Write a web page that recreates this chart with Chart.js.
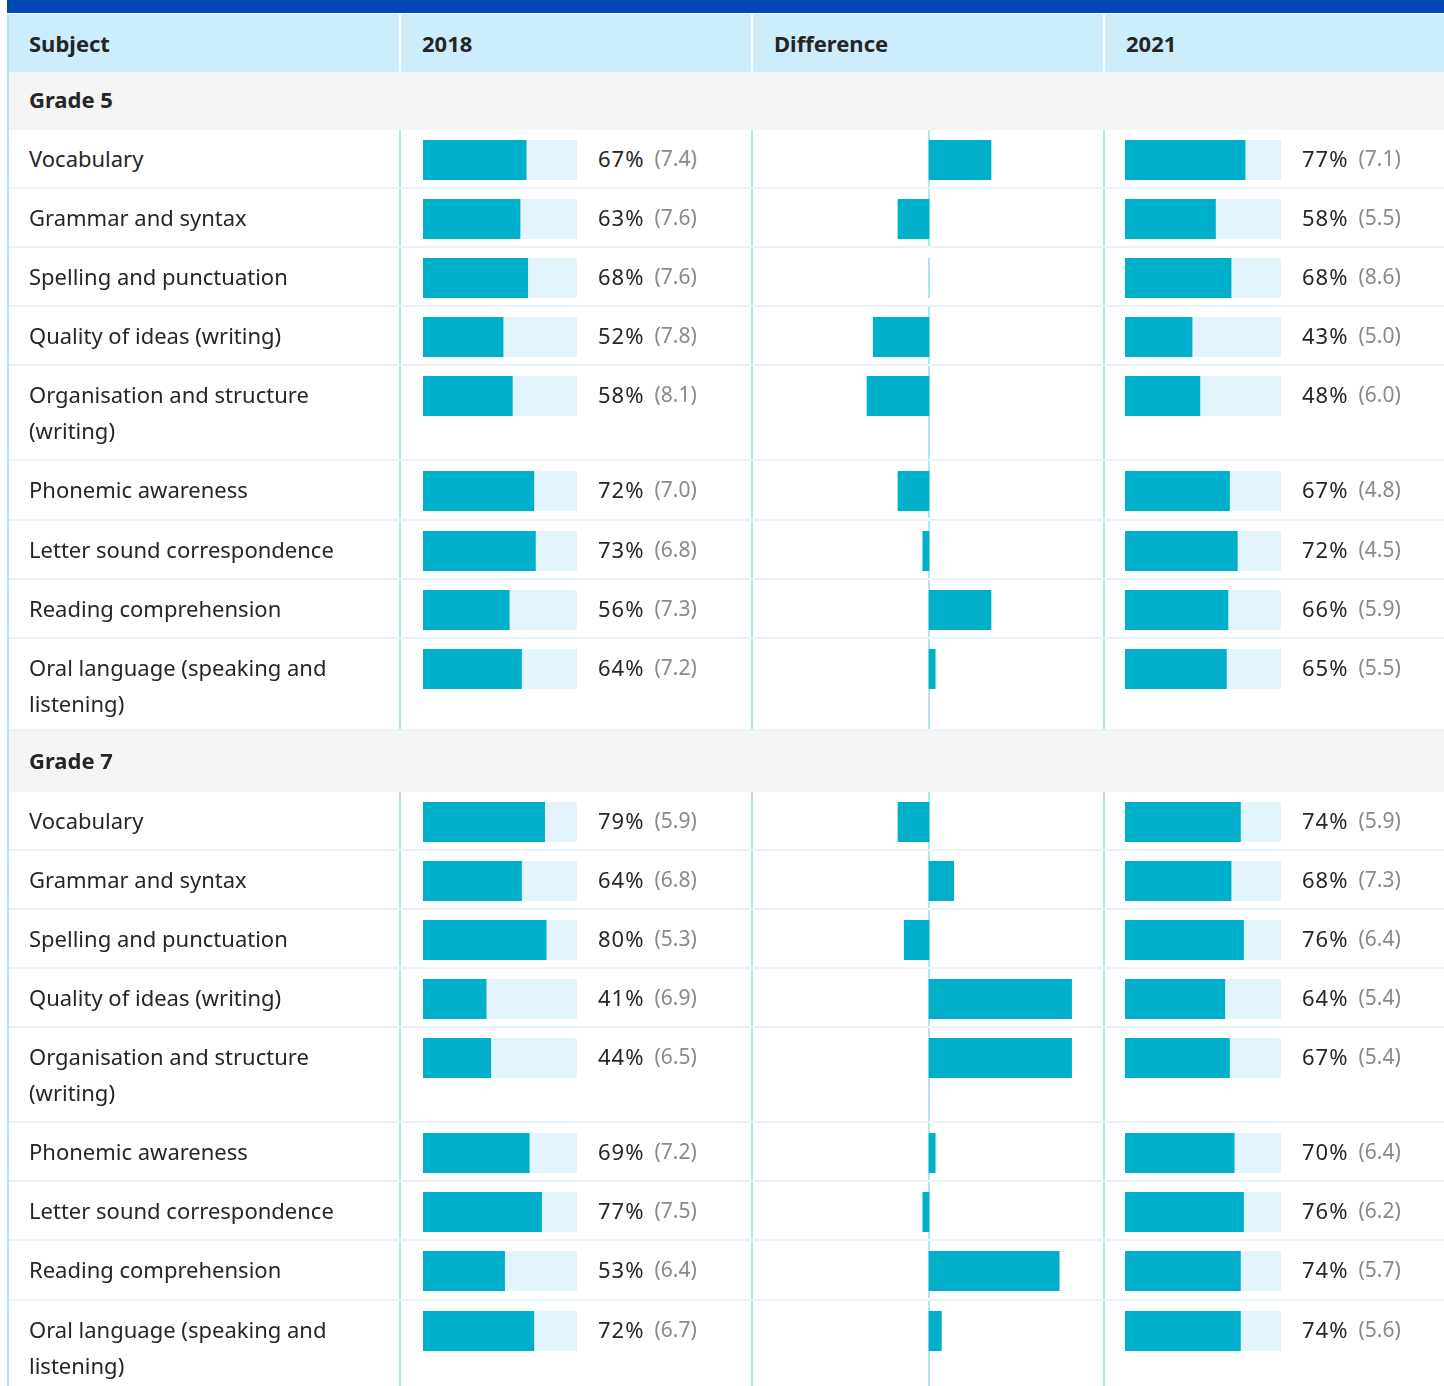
<!DOCTYPE html>
<html>
<head>
<meta charset="utf-8">
<script src="https://cdn.jsdelivr.net/npm/chart.js@4.4.1/dist/chart.umd.min.js"></script>
<style>
  body { margin: 0; width: 1444px; height: 1386px; overflow: hidden; background: #fff;
         font-family: "Noto Sans", sans-serif; color: #262626; font-size: 22px; }
  #topbar { position: absolute; left: 7px; top: 0; width: 1437px; height: 13px; background: #0046b4; }
  #table { position: absolute; left: 7px; top: 14px; width: 1437px; border-left: 2px solid #b3e5ec; }
  .row { display: grid; grid-template-columns: 390px 352px 352px 341px; }
  .head { height: 58px; background: #cdedfc; font-weight: 700; }
  .head > div { line-height: 58px; padding-left: 21px; }
  .head > div + div { border-left: 2px solid #fff; }
  .head > div:first-child { padding-left: 20px; }
  .group { background: #f5f5f5; font-weight: 700; padding-left: 20px; }
  .data { border-bottom: 2px solid #e8f5f8; }
  .data > div { padding-top: 10px; line-height: 36px; }
  .data > div + div { border-left: 2px solid #b3e5ec; }
  .subj { padding-left: 20px; padding-right: 14px; padding-bottom: 11.1px; }
  .data.last .subj { padding-bottom: 8px; }
  .year { display: flex; align-items: flex-start; padding-bottom: 7.1px; }
  .year canvas { display: block; }
  .y18 canvas { margin-left: 22px; }
  .y21 canvas { margin-left: 20px; }
  .pct { margin-left: 21px; letter-spacing: 1px; }
  .se { margin-left: 10px; color: #8a8a8a; font-size: 21px; }
  .diff { position: relative; }
  .diff canvas { position: absolute; left: 0; top: 0; }
</style>
</head>
<body>
<div id="topbar"></div>
<div id="table"></div>
<script>
const headers = ["Subject", "2018", "Difference", "2021"];
const grades = ["Grade 5", "Grade 7"];
const subjects = [
  "Vocabulary",
  "Grammar and syntax",
  "Spelling and punctuation",
  "Quality of ideas (writing)",
  "Organisation and structure (writing)",
  "Phonemic awareness",
  "Letter sound correspondence",
  "Reading comprehension",
  "Oral language (speaking and listening)"
];

// percentages and standard errors, per grade
const g5_2018 = [67, 63, 68, 52, 58, 72, 73, 56, 64];
const g5_2018se = ["7.4", "7.6", "7.6", "7.8", "8.1", "7.0", "6.8", "7.3", "7.2"];
const g5_2021 = [77, 58, 68, 43, 48, 67, 72, 66, 65];
const g5_2021se = ["7.1", "5.5", "8.6", "5.0", "6.0", "4.8", "4.5", "5.9", "5.5"];

const g7_2018 = [79, 64, 80, 41, 44, 69, 77, 53, 72];
const g7_2018se = ["5.9", "6.8", "5.3", "6.9", "6.5", "7.2", "7.5", "6.4", "6.7"];
const g7_2021 = [74, 68, 76, 64, 67, 70, 76, 74, 74];
const g7_2021se = ["5.9", "7.3", "6.4", "5.4", "5.4", "6.4", "6.2", "5.7", "5.6"];

const scores = [
  { a: g5_2018, aSe: g5_2018se, b: g5_2021, bSe: g5_2021se },
  { a: g7_2018, aSe: g7_2018se, b: g7_2021, bSe: g7_2021se }
];

const TEAL = "#00b0cb";
const TRACK = "#e3f4fd";

// vertical zero line through the whole difference cell (not drawn when there is no change)
const zeroLine = {
  id: "zeroLine",
  beforeDatasetsDraw(chart) {
    if (chart.data.datasets[0].data[0] === 0) return;
    const x = chart.scales.x.getPixelForValue(0);
    const c = chart.ctx;
    c.save();
    c.fillStyle = "#b3e5ec";
    c.fillRect(Math.round(x) - 1, 0, 2, chart.height);
    c.restore();
  }
};

const table = document.getElementById("table");
const head = document.createElement("div");
head.className = "row head";
headers.forEach(h => {
  const d = document.createElement("div");
  d.textContent = h;
  head.appendChild(d);
});
table.appendChild(head);

const pending = [];

function yearCell(cls, value, se, width) {
  const cell = document.createElement("div");
  cell.className = "year " + cls;
  const cv = document.createElement("canvas");
  cv.width = width; cv.height = 40;
  cv.style.width = width + "px"; cv.style.height = "40px";
  cell.appendChild(cv);
  const p = document.createElement("span");
  p.className = "pct"; p.textContent = value + "%";
  const s = document.createElement("span");
  s.className = "se"; s.textContent = "(" + se + ")";
  cell.appendChild(p); cell.appendChild(s);
  pending.push(() => {
    new Chart(cv, {
      type: "bar",
      data: {
        labels: [""],
        datasets: [
          { data: [value], backgroundColor: TEAL },
          { data: [100 - value], backgroundColor: TRACK }
        ]
      },
      options: {
        indexAxis: "y",
        responsive: false,
        animation: false,
        events: [],
        barPercentage: 1,
        categoryPercentage: 1,
        plugins: { legend: { display: false }, tooltip: { enabled: false } },
        scales: {
          x: { stacked: true, min: 0, max: 100, display: false },
          y: { stacked: true, display: false }
        }
      }
    });
  });
  return cell;
}

function diffCell(diff) {
  const cell = document.createElement("div");
  cell.className = "diff";
  const cv = document.createElement("canvas");
  cell.appendChild(cv);
  pending.push(() => {
    const h = cell.clientHeight;
    cv.width = 350; cv.height = h;
    cv.style.width = "350px"; cv.style.height = h + "px";
    new Chart(cv, {
      type: "bar",
      data: { labels: [""], datasets: [{ data: [diff], backgroundColor: TEAL }] },
      options: {
        indexAxis: "y",
        responsive: false,
        animation: false,
        events: [],
        barPercentage: 1,
        categoryPercentage: 1,
        layout: { padding: { left: 21, right: 19, top: 10, bottom: h - 50 } },
        plugins: { legend: { display: false }, tooltip: { enabled: false } },
        scales: {
          x: { min: -25, max: 25, display: false },
          y: { display: false }
        }
      },
      plugins: [zeroLine]
    });
  });
  return cell;
}

grades.forEach((g, gi) => {
  const gr = document.createElement("div");
  gr.className = "group";
  gr.textContent = g;
  gr.style.height = gi === 0 ? "58px" : "61px";
  gr.style.lineHeight = gi === 0 ? "55px" : "58px";
  table.appendChild(gr);
  const sc = scores[gi];
  subjects.forEach((name, i) => {
    const row = document.createElement("div");
    row.className = "row data" + (i === subjects.length - 1 ? " last" : "");
    const s = document.createElement("div");
    s.className = "subj";
    s.textContent = name;
    row.appendChild(s);
    row.appendChild(yearCell("y18", sc.a[i], sc.aSe[i], 154));
    row.appendChild(diffCell(sc.b[i] - sc.a[i]));
    row.appendChild(yearCell("y21", sc.b[i], sc.bSe[i], 156));
    table.appendChild(row);
  });
});

pending.forEach(fn => fn());
</script>
</body>
</html>
